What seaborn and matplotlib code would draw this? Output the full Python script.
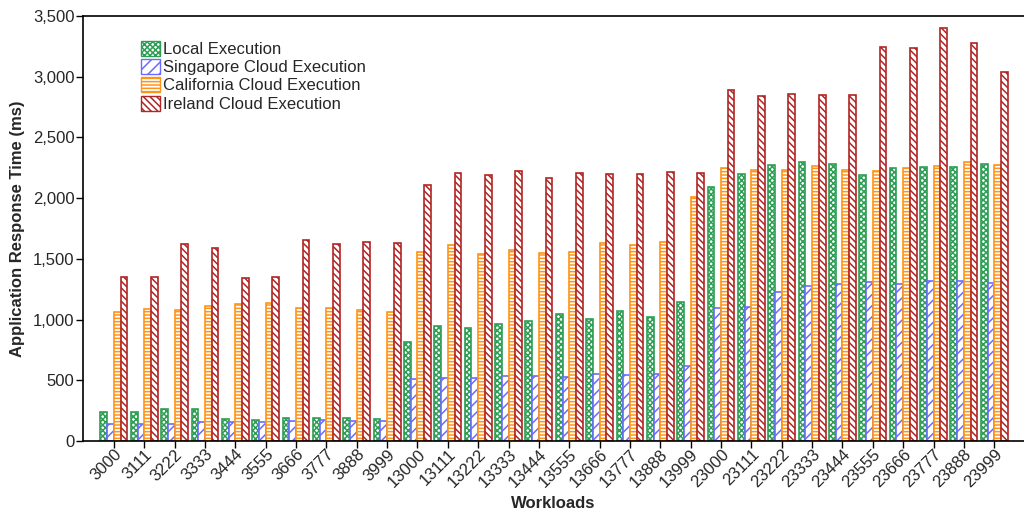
import matplotlib
matplotlib.use("Agg")
import matplotlib.pyplot as plt
from matplotlib.patches import Patch
from matplotlib.ticker import FuncFormatter
import seaborn as sns
import pandas as pd

workloads = ["3000", "3111", "3222", "3333", "3444", "3555", "3666", "3777", "3888", "3999",
             "13000", "13111", "13222", "13333", "13444", "13555", "13666", "13777", "13888", "13999",
             "23000", "23111", "23222", "23333", "23444", "23555", "23666", "23777", "23888", "23999"]

local = [241, 239, 261, 269, 179, 173, 189, 189, 189, 184,
         813, 947, 931, 961, 991, 1043, 1002, 1068, 1019, 1142,
         2089, 2199, 2276, 2300, 2281, 2193, 2246, 2259, 2253, 2278]
singapore = [140, 145, 145, 154, 154, 154, 165, 173, 167, 170,
             508, 516, 524, 533, 538, 530, 557, 541, 552, 615,
             1093, 1106, 1230, 1279, 1295, 1309, 1295, 1320, 1320, 1306]
california = [1065, 1084, 1081, 1109, 1126, 1139, 1098, 1098, 1081, 1065,
              1559, 1614, 1542, 1570, 1551, 1559, 1628, 1617, 1641, 2012,
              2246, 2234, 2234, 2262, 2229, 2226, 2248, 2262, 2300, 2270]
ireland = [1353, 1348, 1625, 1592, 1342, 1353, 1655, 1620, 1636, 1631,
           2108, 2204, 2188, 2226, 2168, 2210, 2196, 2199, 2215, 2207,
           2888, 2838, 2855, 2849, 2847, 3247, 3239, 3404, 3280, 3043]

series_names = ["Local Execution", "Singapore Cloud Execution",
                "California Cloud Execution", "Ireland Cloud Execution"]
series_values = [local, singapore, california, ireland]
colors = ["#2e9e55", "#6b6bff", "#ff9418", "#b02525"]
hatches = ["xxxxxx", "///", "-----", "\\\\\\\\\\"]

rows = []
for name, vals in zip(series_names, series_values):
    for w, v in zip(workloads, vals):
        rows.append({"Workloads": w, "Time": v, "Platform": name})
df = pd.DataFrame(rows)

sns.set_style("white")
plt.rcParams["font.family"] = ["Liberation Sans", "DejaVu Sans"]
plt.rcParams["hatch.linewidth"] = 1.1

fig = plt.figure(figsize=(10.24, 5.16), dpi=100)
ax = fig.add_axes([0.081, 0.145, 0.919, 0.824])

sns.barplot(data=df, x="Workloads", y="Time", hue="Platform", order=workloads,
            hue_order=series_names, palette=colors, width=0.885, ax=ax,
            legend=False, saturation=1, errorbar=None)

for cont, col, h in zip(ax.containers, colors, hatches):
    for bar in cont:
        bar.set_facecolor("white")
        bar.set_edgecolor(col)
        bar.set_hatch(h)
        bar.set_linewidth(1.2)

ax.set_ylim(0, 3500)
ax.set_xlim(-1.02, 29.98)
ax.set_yticks(range(0, 3501, 500))
ax.yaxis.set_major_formatter(FuncFormatter(lambda v, p: f"{int(v):,}"))

for side in ["left", "bottom", "top"]:
    ax.spines[side].set_visible(True)
    ax.spines[side].set_color("black")
    ax.spines[side].set_linewidth(1.2)
ax.spines["right"].set_visible(False)

ax.tick_params(axis="both", which="major", direction="out", length=5, width=1,
               color="black", labelsize=12, left=True, bottom=True)
ax.tick_params(axis="x", pad=-1)
ax.tick_params(axis="y", pad=1)
plt.setp(ax.get_xticklabels(), rotation=45, ha="right", rotation_mode="anchor")

ax.set_xlabel("Workloads", fontsize=12, fontweight="bold", labelpad=4)
ax.set_ylabel("Application Response Time (ms)", fontsize=12, fontweight="bold", labelpad=6)

handles = [Patch(facecolor="white", edgecolor=c, hatch=h, label=n)
           for c, h, n in zip(colors, hatches, series_names)]
ax.legend(handles=handles, loc="upper left", bbox_to_anchor=(0.062, 0.942),
          frameon=False, fontsize=12, borderaxespad=0, borderpad=0,
          handlelength=1.1, handleheight=1.0, handletextpad=0.2, labelspacing=0.13)

fig.savefig("out.png", dpi=100)
